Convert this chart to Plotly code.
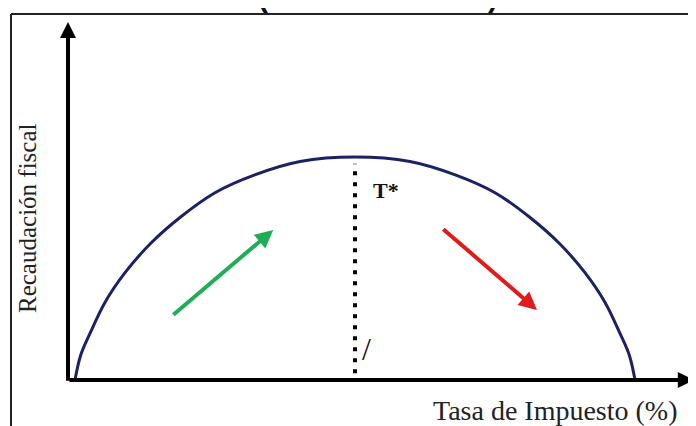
import plotly.graph_objects as go

# Curva de Laffer: tasa de impuesto (%) vs recaudación (índice, máx = 100)
tasa = [0, 1, 2.7, 5.4, 8.9, 13.4, 18.8, 25, 32.1, 40.2, 50,
        59.8, 67.9, 75, 81.2, 86.6, 91.1, 94.6, 97.3, 99, 100]
recaudacion = [0, 11, 21, 35, 48, 61, 73, 84, 92, 98, 100,
               98, 92, 84, 73, 61, 48, 35, 21, 11, 0]

tasa_optima = 50
linea_optima_y = [3, 97]

flecha_verde_x = [17.3, 35.4]
flecha_verde_y = [28.7, 67.3]
flecha_roja_x = [65.5, 82.5]
flecha_roja_y = [68.2, 31.4]

eje_x = [-1.25, 110.5]
eje_y = [-1, 160.5]

W, H = 696, 426
OFF = 8  # margen del body de la página


def px(x):
    return (x - OFF) / W


def py(y):
    return 1 - (y - OFF) / H


fig = go.Figure()

fig.add_trace(go.Scatter(x=tasa, y=recaudacion, mode='lines',
                         line=dict(color='#1b2163', width=3, shape='spline', smoothing=1),
                         hoverinfo='skip', showlegend=False))

fig.add_trace(go.Scatter(x=[tasa_optima, tasa_optima], y=linea_optima_y, mode='lines',
                         line=dict(color='black', width=4, dash='4px,7px'),
                         hoverinfo='skip', showlegend=False))


def flecha(x0, y0, x1, y1, color, width, size):
    fig.add_annotation(x=x1, y=y1, ax=x0, ay=y0, xref='x', yref='y', axref='x', ayref='y',
                       text='', showarrow=True, arrowhead=2, arrowwidth=width,
                       arrowsize=size, arrowcolor=color, standoff=0, startstandoff=0)


# ejes con flechas
flecha(eje_x[0], 0, eje_x[1], 0, 'black', 4, 0.8)
flecha(eje_x[0], eje_y[0], eje_x[0], eje_y[1], 'black', 4, 0.8)

# flechas de tendencia
flecha(flecha_verde_x[0], flecha_verde_y[0], flecha_verde_x[1], flecha_verde_y[1], '#1fae57', 4, 0.9)
flecha(flecha_roja_x[0], flecha_roja_y[0], flecha_roja_x[1], flecha_roja_y[1], '#e01b1b', 4, 0.9)

serif = 'Liberation Serif, Times New Roman, serif'

fig.add_annotation(x=55.5, y=85.2, text='<b>T*</b>', showarrow=False,
                   font=dict(family=serif, size=22, color='#111'))
fig.add_annotation(x=52, y=14, text='/', showarrow=False,
                   font=dict(family=serif, size=32, color='#111'))

fig.add_annotation(x=px(27), y=py(218), xref='paper', yref='paper',
                   xanchor='center', yanchor='middle',
                   text='Recaudación fiscal', textangle=-90, showarrow=False,
                   font=dict(family=serif, size=25, color='#222'))
fig.add_annotation(x=px(555), y=py(410), xref='paper', yref='paper',
                   xanchor='center', yanchor='middle',
                   text='Tasa de Impuesto (%)', showarrow=False,
                   font=dict(family=serif, size=28, color='#222'))

# título recortado arriba
fig.add_annotation(x=px(378), y=py(15), xref='paper', yref='paper',
                   xanchor='center', yanchor='bottom',
                   text='<b>(Curva de Laffer)</b>', showarrow=False,
                   font=dict(family='Liberation Sans, Arial, sans-serif', size=30, color='#111'))

# marco
fig.add_shape(type='line', xref='paper', yref='paper', x0=px(11), x1=1, y0=py(14), y1=py(14),
              line=dict(color='#222', width=2))
fig.add_shape(type='line', xref='paper', yref='paper', x0=px(11), x1=px(11), y0=0, y1=py(14),
              line=dict(color='#222', width=2))

fig.update_layout(
    width=W, height=H,
    margin=dict(l=0, r=0, t=0, b=0),
    paper_bgcolor='white', plot_bgcolor='white',
    xaxis=dict(range=[(OFF - 75) / 5.6, (W + OFF - 75) / 5.6], visible=False),
    yaxis=dict(range=[(380 - H - OFF) / 2.23, (380 - OFF) / 2.23], visible=False),
    showlegend=False,
)

fig.write_html('out.html')
